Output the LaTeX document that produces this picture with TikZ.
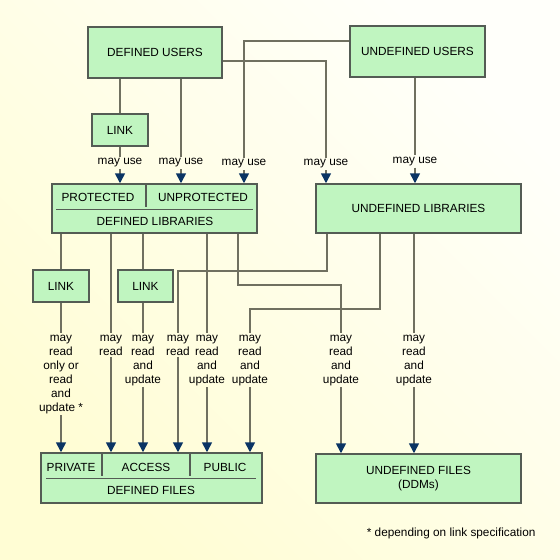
\documentclass[tikz,border=0pt]{standalone}
\usepackage{fontspec}
\setmainfont{Liberation Sans}
\usetikzlibrary{arrows.meta}
\definecolor{boxfill}{RGB}{192,245,192}
\definecolor{boxline}{RGB}{84,92,84}
\definecolor{wiregray}{RGB}{112,112,96}
\definecolor{tipblue}{RGB}{10,52,100}
\definecolor{bgtop}{RGB}{255,255,250}
\definecolor{bgbottom}{RGB}{255,253,212}

\begin{document}
\begin{tikzpicture}[x=1pt, y=-1pt,
                    every node/.style = {text=black, font=\fontsize{11.8}{14}\selectfont},
                    box/.style = {draw=boxline, fill=boxfill, line width=1.5pt, inner sep=0pt},
                    wirelabel/.style = {align=center, inner sep=1.5pt},
                    wireline/.style = {draw=wiregray, line width=1.6pt},
                    uses/.style = {wireline, -{Triangle[width=10pt,length=10pt,color=tipblue]}},
                    part/.style = {draw=boxline, line width=1.5pt}]
                % background
                \useasboundingbox (0,0) rectangle (560,560);
                \shade[top color=bgtop, bottom color=bgbottom, shading angle=-45] (0,0) rectangle (560,560);
                % users and libraries
                \node (du) [box, minimum width=134pt, minimum height=51pt] at (155,52.5) {DEFINED USERS};
                \node (uu) [box, minimum width=135pt, minimum height=51pt] at (417.5,51.5) {UNDEFINED USERS};
                \node (lk1) [box, minimum width=56pt, minimum height=32pt] at (120,130) {LINK};
                \node (dl) [box, minimum width=205pt, minimum height=49pt] at (154.5,208.5) {};
                \node (prot) at (98,197.5) {PROTECTED};
                \node (unprot) at (203,197.5) {UNPROTECTED};
                \node (dlname) at (155,221.5) {DEFINED LIBRARIES};
                \draw[part] (146,184) -- (146,207);
                \draw[part] (56,209.5) -- (253,209.5);
                \node (ul) [box, minimum width=205pt, minimum height=49pt] at (418.5,208.5) {UNDEFINED LIBRARIES};
                % links and files
                \node (lk2) [box, minimum width=56pt, minimum height=32pt] at (61,286) {LINK};
                \node (lk3) [box, minimum width=55pt, minimum height=32pt] at (145.5,286) {LINK};
                \node (df) [box, minimum width=221pt, minimum height=50pt] at (151.5,478) {};
                \node (priv) at (71,467) {PRIVATE};
                \node (acc) at (146,467) {ACCESS};
                \node (pub) at (225,467) {PUBLIC};
                \node (dfname) at (151,490.5) {DEFINED FILES};
                \draw[part] (102,453) -- (102,476);
                \draw[part] (190,453) -- (190,476);
                \draw[part] (46,478.5) -- (256,478.5);
                \node (uf) [box, minimum width=205pt, minimum height=49pt, align=center] at (418.5,478.5) {UNDEFINED FILES\\(DDMs)};
                \node (note) [anchor=east] at (539,533) {* depending on link specification};
                % may use
                \node (mu1) [wirelabel] at (120,163) {may use};
                \node (mu2) [wirelabel] at (181,163) {may use};
                \node (mu3) [wirelabel] at (244,164) {may use};
                \node (mu4) [wirelabel] at (326,164) {may use};
                \node (mu5) [wirelabel] at (415,161.5) {may use};
                \draw[wireline] (du.south -| lk1) -- (lk1);
                \draw[wireline] (lk1) -- (mu1);
                \draw[uses] (mu1) -- (dl.north -| mu1);
                \draw[wireline] (du.south -| mu2) -- (mu2);
                \draw[uses] (mu2) -- (dl.north -| mu2);
                \draw[wireline] ([yshift=10.5pt]uu.west) -| (mu3);
                \draw[uses] (mu3) -- (dl.north -| mu3);
                \draw[wireline] ([yshift=-8.5pt]du.east) -| (mu4);
                \draw[uses] (mu4) -- (ul.north -| mu4);
                \draw[wireline] (uu.south -| mu5) -- (mu5);
                \draw[uses] (mu5) -- (ul.north -| mu5);
                % may read / update
                \node (r1) [wirelabel, anchor=north] at (61,333) {may\\read\\only or\\read\\and\\update *};
                \node (r2) [wirelabel, anchor=north] at (111,333) {may\\read};
                \node (r3) [wirelabel, anchor=north] at (143,333) {may\\read\\and\\update};
                \node (r4) [wirelabel, anchor=north] at (178,333) {may\\read};
                \node (r5) [wirelabel, anchor=north] at (207,333) {may\\read\\and\\update};
                \node (r6) [wirelabel, anchor=north] at (250,333) {may\\read\\and\\update};
                \node (r7) [wirelabel, anchor=north] at (341,333) {may\\read\\and\\update};
                \node (r8) [wirelabel, anchor=north] at (414,333) {may\\read\\and\\update};
                \draw[wireline] (dl.south -| lk2) -- (lk2);
                \draw[wireline] (lk2) -- (r1);
                \draw[uses] (r1) -- (df.north -| r1);
                \draw[wireline] (dl.south -| r2) -- (r2);
                \draw[uses] (r2) -- (df.north -| r2);
                \draw[wireline] (dl.south -| r3) -- (lk3.north -| r3);
                \draw[wireline] (lk3.south -| r3) -- (r3);
                \draw[uses] (r3) -- (df.north -| r3);
                \draw[wireline] ([xshift=12pt]ul.south west) -- ++(0,37) -| (r4);
                \draw[uses] (r4) -- (df.north -| r4);
                \draw[wireline] (dl.south -| r5) -- (r5);
                \draw[uses] (r5) -- (df.north -| r5);
                \draw[wireline] ([xshift=65pt]ul.south west) -- ++(0,75) -| (r6);
                \draw[uses] (r6) -- (df.north -| r6);
                \draw[wireline] ([xshift=-20pt]dl.south east) -- ++(0,51) -| (r7);
                \draw[uses] (r7) -- (uf.north -| r7);
                \draw[wireline] (ul.south -| r8) -- (r8);
                \draw[uses] (r8) -- (uf.north -| r8);
            \end{tikzpicture}
\end{document}
